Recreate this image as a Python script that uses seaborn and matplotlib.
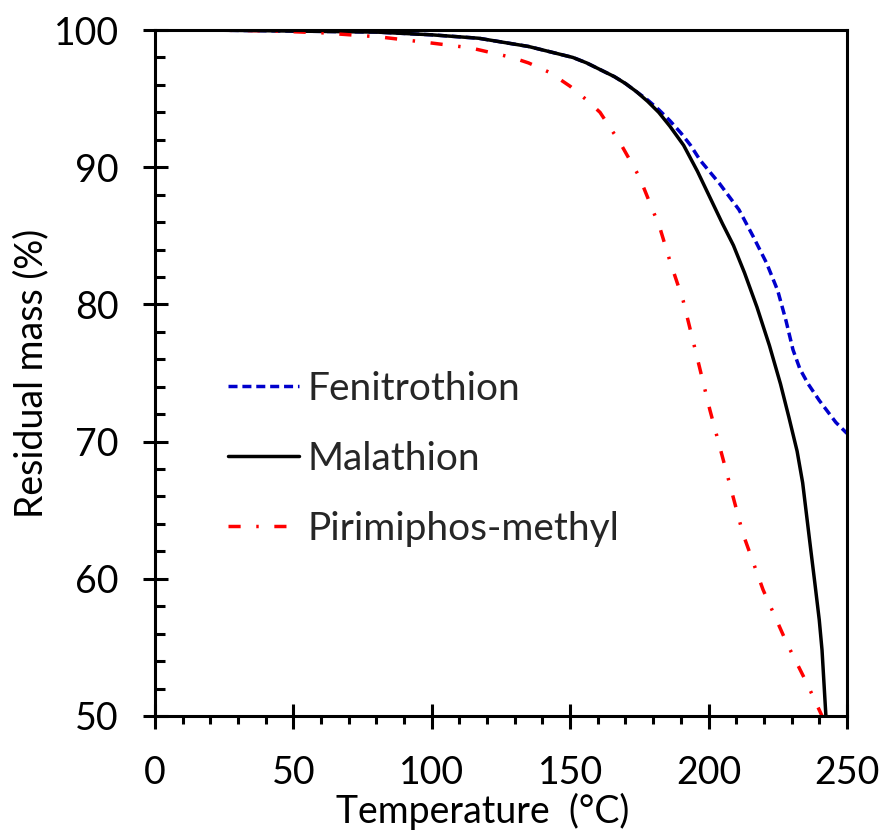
import pandas as pd
import matplotlib
matplotlib.use("Agg")
import matplotlib.pyplot as plt
from matplotlib.ticker import MultipleLocator
import seaborn as sns

# Residual mass curves
fen_temp = [17, 40, 60, 80, 100, 117, 135, 151, 156, 161, 166, 170, 174, 178, 182, 186, 190,
            193.5, 197, 204, 211, 216, 221, 225, 228, 230.5, 233, 236, 240, 243, 246, 250]
fen_mass = [100, 99.95, 99.9, 99.85, 99.65, 99.4, 98.8, 98.0, 97.6, 97.1, 96.6, 96.1, 95.5,
            94.9, 94.2, 93.4, 92.5, 91.6, 90.5, 88.8, 86.9, 85.0, 83.0, 81.0, 78.8, 76.7,
            75.3, 74.2, 73.0, 72.2, 71.4, 70.6]

mal_temp = [17, 40, 60, 80, 100, 117, 135, 151, 156, 161, 166, 170, 174, 178, 182, 186, 191,
            196, 200.5, 205, 209, 213, 217.5, 222, 226, 229, 232, 234, 235.5, 237, 238.4, 240,
            241, 242.4]
mal_mass = [100, 99.95, 99.9, 99.85, 99.65, 99.4, 98.8, 98.0, 97.6, 97.1, 96.6, 96.1, 95.5,
            94.8, 94.0, 93.0, 91.6, 89.7, 87.8, 85.9, 84.3, 82.3, 79.8, 77.0, 74.2, 71.8,
            69.3, 67.0, 64.5, 62.0, 59.7, 57.0, 54.8, 50.0]

pir_temp = [17, 40, 60, 81, 98, 114, 129, 135, 142.7, 150, 156, 160.8, 164.4, 168, 175,
            182.4, 186, 190.8, 195.8, 200.5, 206.6, 212.4, 219.7, 228.3, 235.5, 241]
pir_mass = [100, 99.95, 99.8, 99.5, 99.1, 98.7, 98.0, 97.6, 96.9, 95.9, 94.9, 94.0, 92.9,
            91.8, 89.3, 85.6, 83.2, 80.3, 76.2, 72.3, 67.7, 63.3, 59.2, 55.3, 52.4, 50.0]

sns.set_theme(style="ticks")
plt.rcParams["font.family"] = ["Lato", "DejaVu Sans"]

fig = plt.figure(figsize=(8.85, 8.34), dpi=100)
ax = fig.add_axes([0.175, 0.1415, 0.782, 0.8225])

lw = 2.5
sns.lineplot(x=fen_temp, y=fen_mass, ax=ax, color="#0000cc", linewidth=lw, sort=False,
             linestyle=(0, (2.6, 1.4)), label="Fenitrothion")
sns.lineplot(x=mal_temp, y=mal_mass, ax=ax, color="black", linewidth=lw, sort=False,
             label="Malathion")
sns.lineplot(x=pir_temp, y=pir_mass, ax=ax, color="#ff0000", linewidth=lw, sort=False,
             linestyle=(0, (3.5, 4.5, 0.7, 4.5)), label="Pirimiphos-methyl")

ax.set_xlim(0, 250)
ax.set_ylim(50, 100)
ax.xaxis.set_major_locator(MultipleLocator(50))
ax.xaxis.set_minor_locator(MultipleLocator(10))
ax.yaxis.set_major_locator(MultipleLocator(10))
ax.yaxis.set_minor_locator(MultipleLocator(2))

for s in ax.spines.values():
    s.set_linewidth(2.2)
    s.set_color("black")

ax.tick_params(axis="both", which="major", direction="inout", length=18, width=2.2,
               labelsize=27, color="black", labelcolor="black")
ax.tick_params(axis="x", which="major", pad=19)
ax.tick_params(axis="y", which="major", pad=17)
ax.tick_params(axis="x", which="minor", direction="out", length=6, width=2.2, color="black")
ax.tick_params(axis="y", which="minor", direction="in", length=7, width=2.2, color="black")

ax.set_xlabel("Temperature  (°C)", fontsize=27, color="black")
ax.xaxis.set_label_coords(0.473, -0.112)
ax.set_ylabel("Residual mass (%)", fontsize=27, color="black")
ax.yaxis.set_label_coords(-0.152, 0.5)

ax.legend(loc="center left", bbox_to_anchor=(0.105, 0.375), frameon=False, fontsize=28,
          handlelength=1.85, handletextpad=0.2, labelspacing=0.88, borderpad=0,
          borderaxespad=0)

fig.savefig("out.png", dpi=100)
